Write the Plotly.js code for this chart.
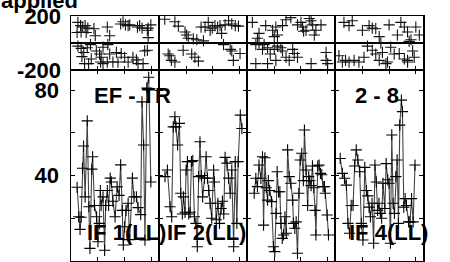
<!DOCTYPE html>
<html>
<head>
<meta charset="utf-8">
<script src="https://cdn.plot.ly/plotly-3.0.1.min.js"></script>
<style>html,body{margin:0;padding:0;background:#fff;}#chart{width:450px;height:262px;}</style>
</head>
<body>
<div id="chart"></div>
<script>
// ---- Data (time in hours, amplitude, phase in degrees) ----
const panelLabels = ["IF 1(LL)", "IF 2(LL)", "", "IF 4(LL)"];
const baselineLabel = "EF - TR";
const baselineNums = "2 - 8";
const titleText = "applied";

const tAmp1 = [0.22,0.28,0.33,0.37,0.42,0.46,0.52,0.60,0.66,0.70,0.77,0.80,0.87,0.95,1.00,1.05,1.09,1.12,1.19,1.25,1.29,1.35,1.40,1.46,1.50,1.56,1.64,1.72,1.79,1.85,1.91,1.95,2.00,2.05,2.13,2.19,2.29,2.35,2.44,2.50,2.60,2.65,2.71,2.76,2.83,2.90,2.98];
const amp1 = [34.5,20.7,14.8,20.5,43.4,53.8,30,65.6,25.4,5.9,43,48.8,26,20.7,9,17.6,33,26,30,5,26,33,26,38.8,37,28,20.7,34.7,30.7,45,23.7,7.5,16,23.7,27,10,38.8,30,30,25,21.7,74.5,54.3,9.8,81,86,37];

const tAmp2 = [0.21,0.30,0.40,0.46,0.52,0.58,0.62,0.68,0.75,0.80,0.86,0.90,0.96,1.00,1.05,1.10,1.15,1.20,1.25,1.31,1.37,1.42,1.47,1.52,1.57,1.62,1.69,1.75,1.80,1.85,1.90,1.96,2.03,2.06,2.13,2.19,2.25,2.31,2.36,2.41,2.46,2.53,2.59,2.65,2.71,2.78,2.84,2.90,2.95,3.03,3.09];
const amp2 = [39.5,42.6,25.4,20.7,62.8,67.5,62.8,54.3,64.4,31.7,22,30,22.8,42.6,46.5,22,22.8,46.5,47,20.7,17.6,6.7,39.5,55.8,40,30,38.8,48.8,38.8,33,27,20,42.6,37,19.3,27,17.6,24.6,28,22,48.5,45.8,38.8,31.7,42.6,6.7,46.5,17.6,46.5,68.3,62];

const tAmp3 = [0.25,0.31,0.37,0.43,0.50,0.56,0.60,0.65,0.70,0.75,0.78,0.83,0.90,0.97,1.02,1.07,1.11,1.16,1.21,1.25,1.30,1.35,1.40,1.45,1.50,1.56,1.62,1.69,1.72,1.77,1.82,1.87,1.92,1.97,2.03,2.09,2.13,2.19,2.25,2.29,2.33,2.38,2.43,2.48,2.53,2.56,2.63,2.68,2.73,2.78,2.83,2.88,2.91,2.98,3.03];
const amp3 = [31.7,38.7,34.8,44.9,38.7,48.8,16.8,48.3,34.3,28.5,37.6,33,27.8,6.7,4.4,22.3,41.8,32.4,32.4,17.6,10.6,12.2,20.7,13,52,39.5,36.4,28.5,17.6,15.3,18.3,3.6,31.7,47.3,50.4,37.6,61.3,42.6,26,39.5,37.6,35.3,44.5,34.3,23.7,12.2,44.5,44.9,41,40.4,34.8,34.8,31.7,21.5,12.2];

const tAmp4 = [0.17,0.25,0.33,0.40,0.46,0.52,0.58,0.65,0.71,0.77,0.83,0.90,0.96,1.02,1.09,1.15,1.20,1.25,1.30,1.36,1.42,1.47,1.52,1.57,1.62,1.67,1.72,1.77,1.84,1.89,1.95,2.00,2.05,2.10,2.15,2.20,2.25,2.30,2.35,2.40,2.46,2.50,2.55,2.60,2.65,2.73,2.78,2.84,2.90,2.97];
const amp4 = [48,41,38.7,35.5,17.6,13,26,26,44.5,52,47.3,41.8,17.6,9.8,43.8,33,30.5,25.2,20.7,27,8.3,44.9,37,23.7,27,22.3,20,36.4,24.6,45.6,38,36.4,8.3,59,27,22.3,39.5,47.3,17.6,63.6,75.3,69.9,25.2,29.2,26,18.3,18.3,29.2,18.3,44.9];

const tPh1 = [0.22,0.25,0.25,0.35,0.37,0.37,0.40,0.43,0.47,0.50,0.52,0.56,0.60,0.62,0.65,0.72,0.75,0.85,0.90,0.94,1.06,1.10,1.12,1.19,1.19,1.35,1.35,1.37,1.44,1.44,1.56,1.69,1.75,1.85,1.87,1.94,2.00,2.03,2.13,2.13,2.19,2.31,2.44,2.48,2.50,2.56,2.65,2.69,2.75,2.85,2.85,2.88,2.88,2.98];
const ph1 = [78,153,-23,129,82,-40,-101,118,-70,-153,129,78,-35,110,-153,-12,-118,106,54,-59,-82,-141,-106,-31,-153,118,-141,-12,54,-82,-141,-70,-141,141,-78,157,-106,134,129,-141,134,-106,-125,118,-153,129,110,-153,-59,-54,94,110,40,134];

const tPh2 = [0.20,0.33,0.39,0.45,0.58,0.58,0.71,0.89,0.96,1.02,1.08,1.21,1.27,1.33,1.40,1.46,1.56,1.65,1.71,1.83,1.90,1.98,2.08,2.18,2.27,2.33,2.40,2.46,2.59,2.65,2.71,2.71,2.77,2.84,2.96,3.02];
const ph2 = [176,-82,-94,-129,157,-141,125,-54,82,59,35,-82,31,-106,24,-134,118,16,118,153,94,110,129,118,129,71,-12,134,165,-47,141,-59,-129,129,125,-78];

const tPh3 = [0.18,0.31,0.31,0.37,0.43,0.43,0.56,0.62,0.68,0.75,0.75,0.85,0.94,1.00,1.00,1.06,1.06,1.12,1.12,1.25,1.31,1.31,1.44,1.44,1.56,1.62,1.69,1.75,1.87,1.87,2.00,2.06,2.10,2.19,2.31,2.38,2.38,2.44,2.50,2.56,2.75,2.94,2.94,3.00];
const ph3 = [153,-12,-153,35,71,0,-47,-12,129,-35,-153,-82,94,47,-47,118,-129,59,-23,-35,129,-59,172,-106,-129,188,-47,-78,134,-106,153,118,87,94,181,165,-153,134,59,94,134,-70,-129,-153];

const tPh4 = [0.12,0.25,0.31,0.37,0.50,0.50,0.62,0.69,0.87,1.00,1.06,1.19,1.25,1.37,1.37,1.50,1.50,1.63,1.63,1.69,1.75,1.88,1.94,2.00,2.06,2.19,2.31,2.38,2.44,2.57,2.57,2.69,2.69,2.69,2.75,2.82,2.88,2.94,3.00,3.13];
const ph4 = [-94,-141,153,-129,129,-141,165,-129,-141,94,-106,-23,129,110,-54,106,-82,47,-129,0,-70,-153,-141,134,-31,-82,59,-78,153,118,-118,82,-129,-141,12,24,-59,-106,118,59];

const ampT = [tAmp1, tAmp2, tAmp3, tAmp4];
const ampV = [amp1, amp2, amp3, amp4];
const phT = [tPh1, tPh2, tPh3, tPh4];
const phV = [ph1, ph2, ph3, ph4];

const ampTickVals = [0, 20, 40, 60, 80];
const ampTickText = ["0", "", "40", "", "80"];
const phTickVals = [-200, 200];
const phTickText = ["-200", "200"];
const timeTickVals = [1, 2, 3];

// ---- Layout geometry ----
const W = 450, H = 262;
const left = 70.7, pw = 88.15;
const ampBottom = 261, split = 70, phTop = 16;
const font = "Liberation Sans, Arial, Helvetica, sans-serif";

const traces = [];
const layout = {
  width: W, height: H,
  margin: {l: 0, r: 0, t: 0, b: 0},
  paper_bgcolor: "#fff", plot_bgcolor: "#fff",
  showlegend: false,
  font: {family: font, color: "#000"},
  annotations: []
};

function xd(i) { return [(left + pw * i) / W, (left + pw * (i + 1)) / W]; }
const ampDom = [(H - ampBottom) / H, (H - split) / H];
const phDom = [(H - split) / H, (H - phTop) / H];

for (let i = 0; i < 4; i++) {
  const ax = i + 1, px = i + 5;
  const xa = ax === 1 ? "x" : "x" + ax, ya = ax === 1 ? "y" : "y" + ax;
  traces.push({
    x: ampT[i], y: ampV[i], xaxis: xa, yaxis: ya,
    type: "scatter", mode: "lines+markers",
    line: {color: "#444", width: 1.1},
    marker: {symbol: "cross-thin-open", size: 8, color: "#000", line: {color: "#000", width: 1.1}},
    cliponaxis: true
  });
  traces.push({
    x: phT[i], y: phV[i], xaxis: "x" + px, yaxis: "y" + px,
    type: "scatter", mode: "markers",
    marker: {symbol: "cross-thin-open", size: 8, color: "#111", line: {color: "#111", width: 1.1}},
    cliponaxis: true
  });
  const common = {
    showline: true, linecolor: "#000", linewidth: 1.2, showgrid: false,
    ticks: "inside", ticklen: 4, tickcolor: "#000", tickwidth: 1,
    fixedrange: true
  };
  layout["xaxis" + (ax === 1 ? "" : ax)] = Object.assign({}, common, {
    domain: xd(i), anchor: ya, range: [-0.02, 3.28],
    tickvals: timeTickVals, showticklabels: false, mirror: "ticks", zeroline: false
  });
  layout["yaxis" + (ax === 1 ? "" : ax)] = Object.assign({}, common, {
    domain: ampDom, anchor: xa, range: [0, 89.4],
    tickvals: ampTickVals, ticktext: ampTickText, showticklabels: i === 0,
    mirror: "ticks", zeroline: false,
    tickfont: {family: font, size: 22, color: "#000", weight: "bold"},
    ticklabelstandoff: 6
  });
  layout["xaxis" + px] = Object.assign({}, common, {
    domain: xd(i), anchor: "y" + px, range: [-0.02, 3.28],
    tickvals: timeTickVals, showticklabels: false, mirror: true, zeroline: false
  });
  layout["yaxis" + px] = Object.assign({}, common, {
    domain: phDom, anchor: "x" + px, range: [-200, 200],
    tickvals: phTickVals, ticktext: phTickText, showticklabels: i === 0,
    mirror: true, zeroline: true, zerolinecolor: "#000", zerolinewidth: 1.2,
    tickfont: {family: font, size: 22, color: "#000", weight: "bold"},
    ticklabelstandoff: 4
  });
}

function ann(text, xpx, ypx, xanchor) {
  layout.annotations.push({
    text: text, xref: "paper", yref: "paper",
    x: xpx / W, y: 1 - ypx / H, xanchor: xanchor || "left", yanchor: "middle",
    showarrow: false, font: {family: font, size: 22, color: "#000", weight: "bold"}
  });
}
ann(titleText, -1, 1);
ann(baselineLabel, 92, 96);
ann(baselineNums, 353, 96);
ann(panelLabels[0], 85, 232);
ann(panelLabels[1], 165, 232);
ann(panelLabels[3], 347, 232);

Plotly.newPlot("chart", traces, layout, {displayModeBar: false, staticPlot: true});
</script>
</body>
</html>
